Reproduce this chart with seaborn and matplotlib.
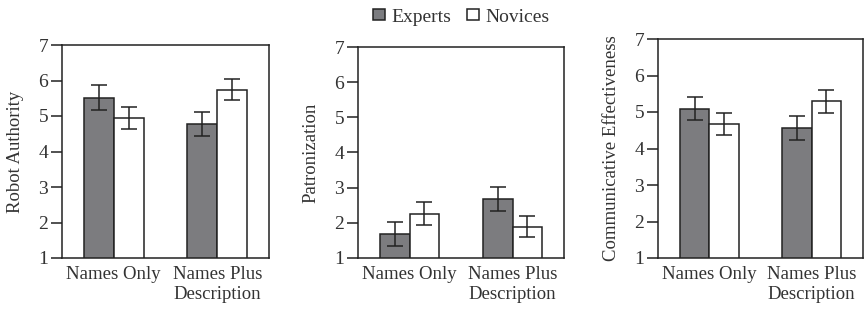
import matplotlib
matplotlib.use("Agg")
import matplotlib.pyplot as plt
import matplotlib.patches as mpatches
from matplotlib.container import BarContainer
import seaborn as sns
import pandas as pd

categories = ["Names Only", "Names Plus\nDescription"]
groups = ["Experts", "Novices"]

authority_experts = [5.52, 4.77]
authority_novices = [4.94, 5.74]
authority_err_experts = [0.34, 0.33]
authority_err_novices = [0.31, 0.29]

patron_experts = [1.68, 2.67]
patron_novices = [2.26, 1.89]
patron_err_experts = [0.34, 0.34]
patron_err_novices = [0.32, 0.30]

comm_experts = [5.09, 4.55]
comm_novices = [4.67, 5.29]
comm_err_experts = [0.32, 0.33]
comm_err_novices = [0.30, 0.32]

ylabels = ["Robot Authority", "Patronization", "Communicative Effectiveness"]
yticks = [1, 2, 3, 4, 5, 6, 7]

sns.set_style("white")
plt.rcParams["font.family"] = ["Liberation Serif", "DejaVu Serif"]
plt.rcParams["font.size"] = 13.5
TXT = "#333333"
EXPERT = "#7b7c80"
EDGE = "#222222"

W, H = 865, 310
fig = plt.figure(figsize=(W / 100, H / 100), dpi=100)

# axes pixel boxes: left, right, top, bottom
boxes = [(62, 269, 45, 258), (358, 564, 47, 258), (658, 863, 39, 258)]
ylab_x = [16, 311, 612]

panels = [
    (authority_experts, authority_novices, authority_err_experts, authority_err_novices),
    (patron_experts, patron_novices, patron_err_experts, patron_err_novices),
    (comm_experts, comm_novices, comm_err_experts, comm_err_novices),
]

for i, (ex, nv, eex, env) in enumerate(panels):
    l, r, t, b = boxes[i]
    ax = fig.add_axes([l / W, (H - b) / H, (r - l) / W, (b - t) / H])
    df = pd.DataFrame({
        "cat": categories * 2,
        "group": [groups[0]] * 2 + [groups[1]] * 2,
        "val": list(ex) + list(nv),
    })
    sns.barplot(data=df, x="cat", y="val", hue="group", order=categories,
                hue_order=groups, palette={"Experts": EXPERT, "Novices": "white"},
                width=0.575, edgecolor=EDGE, linewidth=1.1, errorbar=None,
                legend=False, ax=ax, zorder=2)
    errs = [eex, env]
    vals = [ex, nv]
    bars = [c for c in ax.containers if isinstance(c, BarContainer)]
    for gi, cont in enumerate(bars):
        xs = [p.get_x() + p.get_width() / 2 for p in cont.patches]
        ax.errorbar(xs, vals[gi], yerr=errs[gi], fmt="none", ecolor=EDGE,
                    elinewidth=1.1, capsize=5.5, capthick=1.1, zorder=3)
    ax.set_ylim(1, 7)
    ax.set_xlim(-0.5, 1.5)
    ax.set_yticks(yticks)
    ax.set_xlabel("")
    ax.set_ylabel("")
    for s in ax.spines.values():
        s.set_visible(True)
        s.set_color(EDGE)
        s.set_linewidth(1.1)
    ax.tick_params(axis="y", which="major", left=True, direction="out",
                   length=8, width=1.1, color=EDGE, pad=2, labelcolor=TXT,
                   labelsize=14)
    ax.tick_params(axis="x", bottom=False, length=0, pad=6, labelcolor=TXT,
                   labelsize=13.5)
    cy = (H - (t + b) / 2) / H
    fig.text(ylab_x[i] / W, cy, ylabels[i], rotation=90, ha="center",
             va="center", color=TXT, fontsize=13.5)

handles = [mpatches.Patch(facecolor=EXPERT, edgecolor=EDGE, linewidth=1.1, label="Experts"),
           mpatches.Patch(facecolor="white", edgecolor=EDGE, linewidth=1.1, label="Novices")]
fig.legend(handles=handles, loc="center", bbox_to_anchor=(461 / W, 1 - 17 / H),
           ncol=2, frameon=False, fontsize=14, handlelength=0.62,
           handleheight=0.48, handletextpad=0.33, columnspacing=0.8,
           labelcolor=TXT)

fig.savefig("out.png", dpi=100)
